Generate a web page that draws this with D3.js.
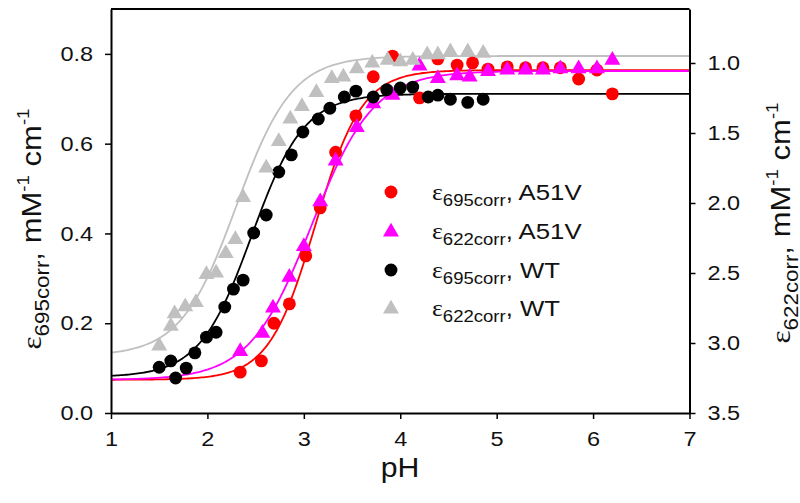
<!DOCTYPE html>
<html><head><meta charset="utf-8">
<script src="https://cdn.jsdelivr.net/npm/d3@7"></script>
<style>body{margin:0;background:#fff} svg{display:block}</style>
</head><body><svg id="c" width="800" height="503"></svg>
<script>
// ---- data ----
const redPH  = [2.34,2.56,2.69,2.85,3.02,3.17,3.33,3.54,3.72,3.92,4.20,4.39,4.59,4.75,4.91,5.11,5.30,5.48,5.66,5.85,6.04,6.20];
const redVal = [0.091,0.116,0.200,0.243,0.350,0.457,0.581,0.662,0.749,0.795,0.702,0.789,0.775,0.780,0.766,0.771,0.769,0.769,0.769,0.744,0.764,0.711];
const magPH  = [2.34,2.57,2.68,2.85,3.00,3.17,3.33,3.55,3.72,3.92,4.20,4.39,4.59,4.72,4.91,5.11,5.30,5.48,5.66,5.85,6.04,6.20];
const magVal = [3.06,2.93,2.75,2.53,2.31,1.99,1.70,1.46,1.29,1.23,1.02,1.11,1.09,1.10,1.06,1.05,1.05,1.05,1.04,1.04,1.04,0.98];
const blkPH  = [1.50,1.62,1.67,1.78,1.87,1.99,2.09,2.18,2.27,2.37,2.48,2.61,2.74,2.87,2.99,3.15,3.27,3.42,3.54,3.72,3.86,4.00,4.13,4.29,4.39,4.52,4.70,4.86];
const blkVal = [0.102,0.116,0.078,0.100,0.134,0.169,0.180,0.236,0.276,0.296,0.401,0.441,0.537,0.575,0.626,0.655,0.679,0.704,0.717,0.704,0.720,0.724,0.726,0.704,0.708,0.699,0.692,0.699];
const gryPH  = [1.50,1.62,1.66,1.77,1.88,1.99,2.09,2.19,2.29,2.37,2.61,2.74,2.86,2.98,3.13,3.29,3.41,3.55,3.71,3.87,4.00,4.13,4.28,4.39,4.52,4.70,4.86];
const gryVal = [3.02,2.88,2.79,2.74,2.71,2.51,2.50,2.36,2.26,1.96,1.75,1.56,1.40,1.31,1.21,1.11,1.10,1.04,1.00,0.98,0.99,0.98,0.94,0.94,0.92,0.92,0.93];

// fitted Henderson-Hasselbalch parameters (red, magenta, black, gray)
const fitPKa  = [3.12, 3.08, 2.46, 2.30];
const fitN    = [1.8, 1.35, 1.6, 1.5];
const fitLow  = [0.074, 3.264, 0.080, 3.093];
const fitHigh = [0.764, 1.057, 0.711, 0.950];

const xTicks = [1,2,3,4,5,6,7];
const yLTicks = [0,0.2,0.4,0.6,0.8];
const yRTicks = [1.0,1.5,2.0,2.5,3.0,3.5];
const legendSub = ["695corr","622corr","695corr","622corr"];
const legendName = ["A51V","A51V","WT","WT"];

// ---- layout ----
const L=111, R=689.5, T=9, B=413;
const SX = 1.12;
const svg = d3.select("#c");
const x  = d3.scaleLinear().domain([1,7]).range([L,R]);
const yL = d3.scaleLinear().domain([0,0.9]).range([B,T]);
const yR = d3.scaleLinear().domain([3.5,0.6143]).range([B,T]);

const colors = ["#ff0000","#ff00ff","#000000","#c0c0c0"];
const shapes = [d3.symbolCircle, d3.symbolTriangle, d3.symbolCircle, d3.symbolTriangle];
const sizes = [130,110,130,110];
const yScales = [yL, yR, yL, yR];
const series = [[redPH,redVal],[magPH,magVal],[blkPH,blkVal],[gryPH,gryVal]];

const font = "'Liberation Sans', Arial, sans-serif";

// fit curves & points
const grid = d3.range(1, 7.0001, 0.02);
series.forEach((s,i)=>{
  const ys = yScales[i];
  const f = p => fitLow[i] + (fitHigh[i]-fitLow[i])/(1+Math.pow(10, fitN[i]*(fitPKa[i]-p)));
  svg.append("path")
    .attr("d", d3.line().x(p=>x(p)).y(p=>ys(f(p)))(grid))
    .attr("fill","none").attr("stroke",colors[i]).attr("stroke-width",1.8);
});
series.forEach((s,i)=>{
  const ys = yScales[i];
  svg.append("g").selectAll("path").data(s[0].map((p,j)=>[p,s[1][j]])).join("path")
    .attr("transform", d=>`translate(${x(d[0])},${ys(d[1])})`)
    .attr("d", d3.symbol().type(shapes[i]).size(sizes[i]))
    .attr("fill", colors[i]);
});

// axes
function styleAxis(g){
  g.select(".domain").attr("stroke","#000").attr("stroke-width",2);
  g.selectAll(".tick line").attr("stroke","#000").attr("stroke-width",1.5);
  g.selectAll(".tick text").attr("font-family",font).attr("font-size",21).attr("fill","#111")
    .attr("transform",`scale(${SX},1)`);
}
svg.append("g").attr("transform",`translate(${L},0)`)
  .call(d3.axisLeft(yL).tickValues(yLTicks).tickFormat(d3.format(".1f")).tickSize(6).tickSizeOuter(0).tickPadding(10))
  .call(styleAxis);
svg.append("g").attr("transform",`translate(${R},0)`)
  .call(d3.axisRight(yR).tickValues(yRTicks).tickFormat(d3.format(".1f")).tickSize(6).tickSizeOuter(0).tickPadding(10))
  .call(styleAxis);
svg.append("g").attr("transform",`translate(0,${B})`)
  .call(d3.axisBottom(x).tickValues(xTicks).tickFormat(d3.format("d")).tickSize(6).tickSizeOuter(0).tickPadding(12))
  .call(styleAxis);
svg.append("line").attr("x1",L).attr("x2",R).attr("y1",T).attr("y2",T).attr("stroke","#000").attr("stroke-width",2);

// axis titles
svg.append("text").attr("x",400).attr("y",477).attr("text-anchor","middle")
  .attr("font-family",font).attr("font-size",27).attr("fill","#111")
  .attr("transform",`translate(400,0) scale(${SX},1) translate(-400,0)`).text("pH");

function epsLabel(g, sub, size){
  const t = g.append("text").attr("font-family",font).attr("font-size",size).attr("fill","#111");
  t.append("tspan").attr("font-family","'Liberation Serif', 'Times New Roman', serif").text("ε");
  t.append("tspan").attr("font-size",size*0.72).attr("dy",size*0.28).text(sub);
  t.append("tspan").attr("dy",-size*0.28).text(",");
  return t;
}
function yTitle(cx, cy, sub){
  const g = svg.append("g").attr("transform",`translate(${cx},${cy}) rotate(-90) scale(1.15,1)`);
  const size = 27;
  const t = epsLabel(g, sub, size).attr("text-anchor","middle");
  t.append("tspan").text(" mM");
  t.append("tspan").attr("font-size",size*0.6).attr("dy",-size*0.45).text("-1");
  t.append("tspan").attr("dy",size*0.45).text(" cm");
  t.append("tspan").attr("font-size",size*0.6).attr("dy",-size*0.45).text("-1");
}
yTitle(41, 229, "695corr");
yTitle(790, 223, "622corr");

// legend
const legY = [192, 231, 270, 308];
legY.forEach((ly,i)=>{
  svg.append("path").attr("transform",`translate(391,${ly + (i%2? 1:0)})`)
    .attr("d", d3.symbol().type(shapes[i]).size(sizes[i])).attr("fill",colors[i]);
  const g = svg.append("g").attr("transform",`translate(432,${ly+8}) scale(${SX},1)`);
  const t = epsLabel(g, legendSub[i], 23);
  t.append("tspan").text(" "+legendName[i]);
});
</script></body></html>
